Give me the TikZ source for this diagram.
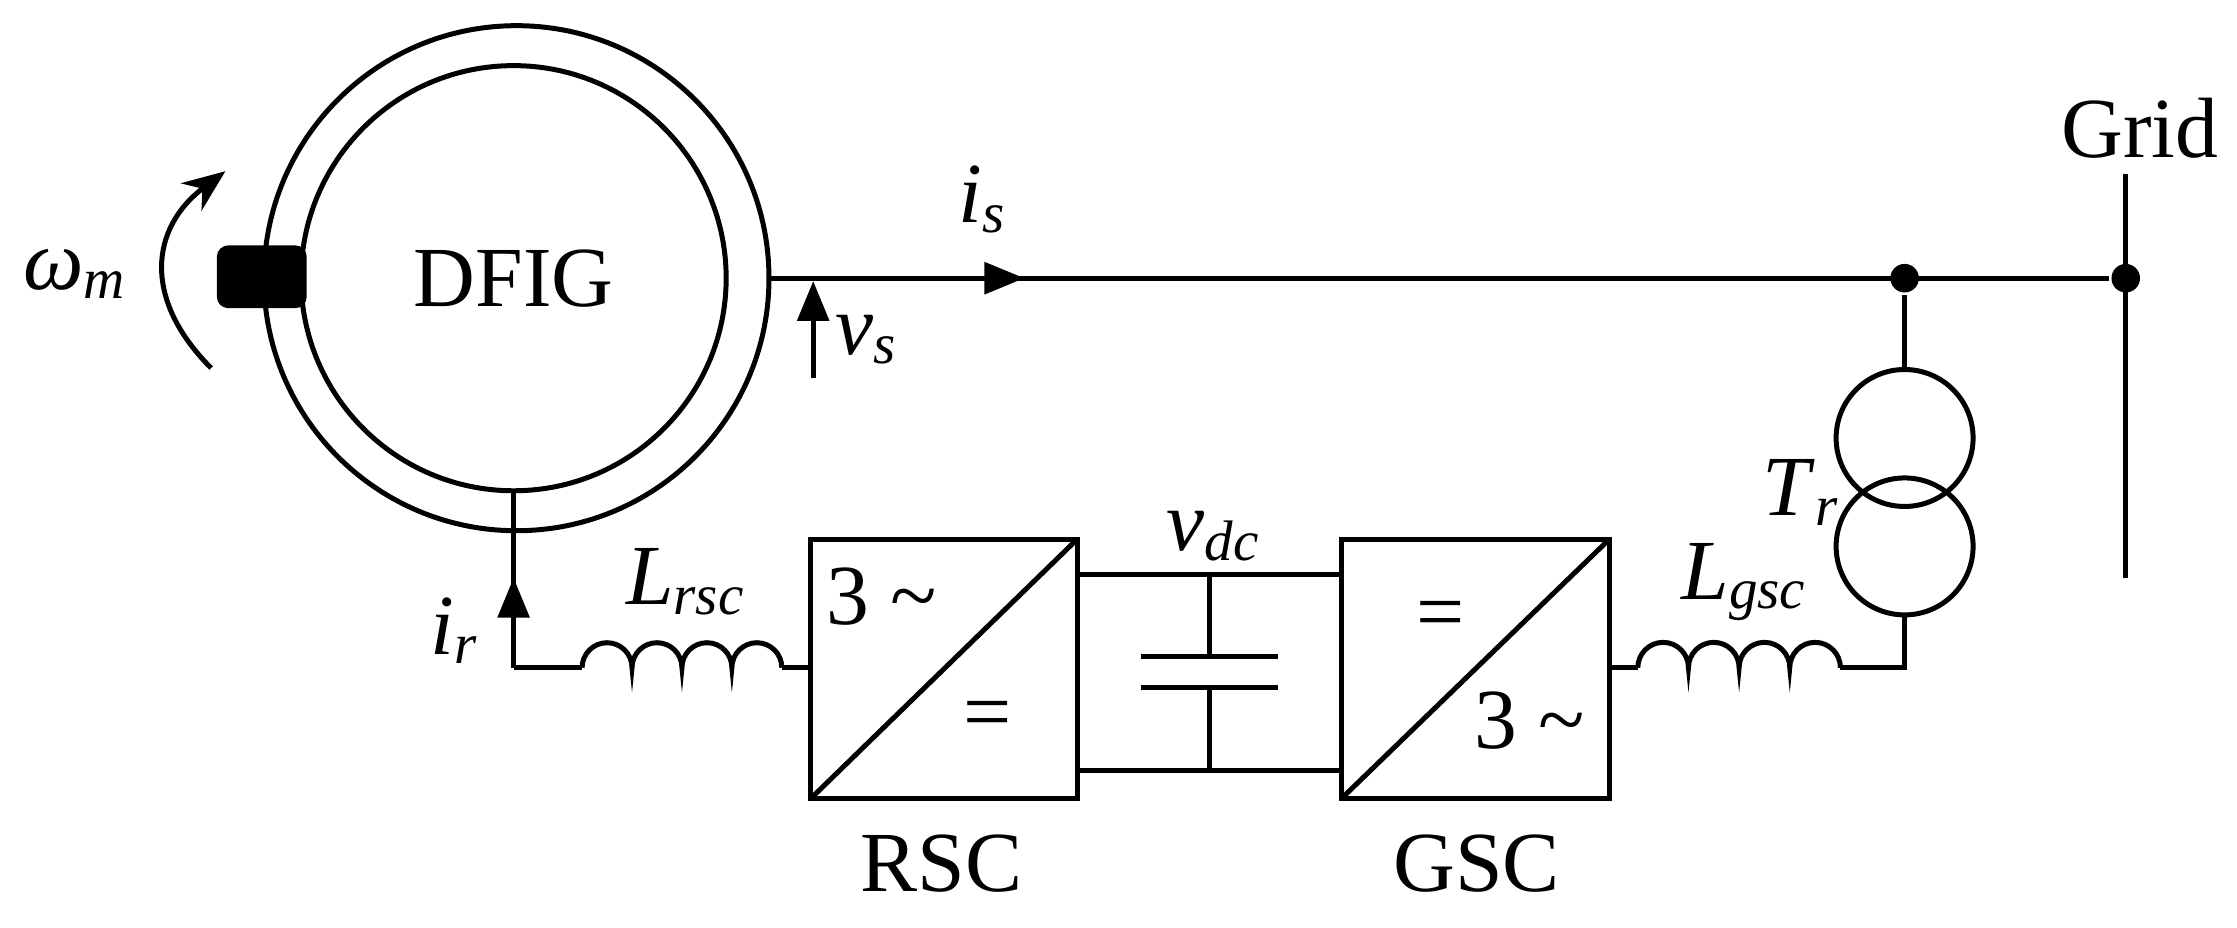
\documentclass[tikz,border=0pt]{standalone}
\usepackage{fontspec}
\setmainfont{Liberation Serif}
\usetikzlibrary{arrows.meta}
\newcommand{\vsub}[2]{\textit{#1}\raisebox{-0.25ex}{\fontsize{40}{44}\selectfont\textit{#2}}}
\begin{document}
\begin{tikzpicture}[x=1pt,y=-1pt,line width=3.5pt,
  lbl/.style={font=\fontsize{60}{64}\selectfont,inner sep=0pt},
  tri/.style={-{Triangle[length=28pt,width=22pt]}},
  dot/.style={circle,fill,inner sep=0pt,minimum size=20pt}]
\useasboundingbox (0,0) rectangle (1568,650);
% machine
\node[circle,draw,minimum size=354pt,inner sep=0pt] (outer) at (362,195) {};
\node[circle,draw,minimum size=298pt,inner sep=0pt,lbl] (inner) at (360,195) {DFIG};
\fill[rounded corners=8pt] (152,172) rectangle (215,216);
\coordinate (w0) at (148,258); \coordinate (w1) at (158,120);
\draw[-{Stealth[length=30pt,width=24pt]}] (w0) .. controls (100,210) and (105,160) .. (w1);
\node[lbl] (wm) at (52,192) {\vsub{ω}{m}};
% stator line
\coordinate (s0) at (540,195);
\node[dot] (d1) at (1335,195) {};
\node[dot] (d2) at (1490,195) {};
\draw (s0) -- (d2);
\draw[tri] (s0) -- (718,195);
\node[lbl] (is) at (688,140) {\vsub{i}{s}};
\coordinate (vs0) at (570,265); \coordinate (vs1) at (570,197);
\draw[tri] (vs0) -- (vs1);
\node[lbl] (vs) at (607,238) {\vsub{v}{s}};
% grid
\coordinate (g0) at (1490,122); \coordinate (g1) at (1490,405);
\draw (g0) -- (g1);
\node[lbl] (grid) at (1500,90) {Grid};
% transformer
\node[circle,draw,minimum size=96pt,inner sep=0pt] (t1) at (1335,307) {};
\node[circle,draw,minimum size=96pt,inner sep=0pt] (t2) at (1335,383) {};
\draw (d1) -- (t1.north);
\node[lbl] (tr) at (1262,345) {\vsub{T}{r}};
% rotor
\coordinate (r0) at (360,345); \coordinate (r1) at (360,468);
\draw (r0) -- (r1);
\draw[tri] (r1) -- (360,405);
\node[lbl] (ir) at (318,442) {\vsub{i}{r}};
\coordinate (l1a) at (408,468); \coordinate (l1b) at (548,468);
\draw (r1) -- (l1a);
\draw (l1a) arc[start angle=180,end angle=360,radius=17.5] arc[start angle=180,end angle=360,radius=17.5] arc[start angle=180,end angle=360,radius=17.5] arc[start angle=180,end angle=360,radius=17.5];
\node[lbl] (lrsc) at (480,408) {\vsub{L}{rsc}};
% RSC
\draw (568,378) rectangle (755,560);
\draw (568,560) -- (755,378);
\draw (l1b) -- (568,468);
\node[lbl] at (618,418) {3 \textasciitilde};
\node[lbl] at (692,505) {=};
\node[lbl] (rsc) at (660,605) {RSC};
% DC link
\draw (755,403) -- (940,403);
\draw (755,540) -- (940,540);
\draw (848,403) -- (848,460);
\draw (800,460) -- (896,460);
\draw (800,482) -- (896,482);
\draw (848,482) -- (848,540);
\node[lbl] (vdc) at (850,376) {\vsub{v}{dc}};
% GSC
\draw (940,378) rectangle (1128,560);
\draw (940,560) -- (1128,378);
\node[lbl] at (1010,435) {=};
\node[lbl] at (1072,505) {3 \textasciitilde};
\node[lbl] (gsc) at (1035,605) {GSC};
\coordinate (l2a) at (1148,468); \coordinate (l2b) at (1290,468);
\draw (1128,468) -- (l2a);
\draw (l2a) arc[start angle=180,end angle=360,radius=17.75] arc[start angle=180,end angle=360,radius=17.75] arc[start angle=180,end angle=360,radius=17.75] arc[start angle=180,end angle=360,radius=17.75];
\node[lbl] (lgsc) at (1222,408) {\vsub{L}{gsc}};
\draw (l2b) -- (1335,468) -- (t2.south);
\end{tikzpicture}
\end{document}
